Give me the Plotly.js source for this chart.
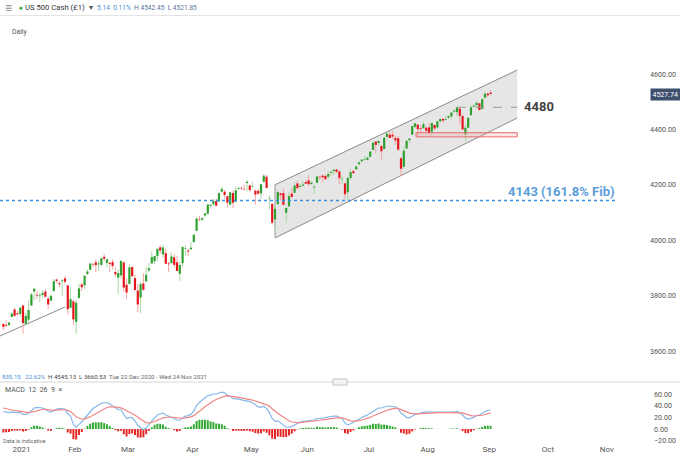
<!DOCTYPE html>
<html><head><meta charset="utf-8">
<script src="https://cdn.plot.ly/plotly-3.0.1.min.js"></script>
<style>html,body{margin:0;padding:0;background:#fff;}#chart{width:680px;height:455px;}</style>
</head><body><div id="chart"></div>
<script>
// ---- Data (US 500 Cash, daily) ----
const dates = [
'2020-12-22','2020-12-23','2020-12-24','2020-12-28','2020-12-29','2020-12-30','2020-12-31',
'2021-01-04','2021-01-05','2021-01-06','2021-01-07','2021-01-08','2021-01-11','2021-01-12','2021-01-13','2021-01-14','2021-01-15','2021-01-19','2021-01-20','2021-01-21','2021-01-22','2021-01-25','2021-01-26','2021-01-27','2021-01-28','2021-01-29',
'2021-02-01','2021-02-02','2021-02-03','2021-02-04','2021-02-05','2021-02-08','2021-02-09','2021-02-10','2021-02-11','2021-02-12','2021-02-16','2021-02-17','2021-02-18','2021-02-19','2021-02-22','2021-02-23','2021-02-24','2021-02-25','2021-02-26',
'2021-03-01','2021-03-02','2021-03-03','2021-03-04','2021-03-05','2021-03-08','2021-03-09','2021-03-10','2021-03-11','2021-03-12','2021-03-15','2021-03-16','2021-03-17','2021-03-18','2021-03-19','2021-03-22','2021-03-23','2021-03-24','2021-03-25','2021-03-26','2021-03-29','2021-03-30','2021-03-31',
'2021-04-01','2021-04-05','2021-04-06','2021-04-07','2021-04-08','2021-04-09','2021-04-12','2021-04-13','2021-04-14','2021-04-15','2021-04-16','2021-04-19','2021-04-20','2021-04-21','2021-04-22','2021-04-23','2021-04-26','2021-04-27','2021-04-28','2021-04-29','2021-04-30',
'2021-05-03','2021-05-04','2021-05-05','2021-05-06','2021-05-07','2021-05-10','2021-05-11','2021-05-12','2021-05-13','2021-05-14','2021-05-17','2021-05-18','2021-05-19','2021-05-20','2021-05-21','2021-05-24','2021-05-25','2021-05-26','2021-05-27','2021-05-28',
'2021-06-01','2021-06-02','2021-06-03','2021-06-04','2021-06-07','2021-06-08','2021-06-09','2021-06-10','2021-06-11','2021-06-14','2021-06-15','2021-06-16','2021-06-17','2021-06-18','2021-06-21','2021-06-22','2021-06-23','2021-06-24','2021-06-25','2021-06-28','2021-06-29','2021-06-30',
'2021-07-01','2021-07-02','2021-07-06','2021-07-07','2021-07-08','2021-07-09','2021-07-12','2021-07-13','2021-07-14','2021-07-15','2021-07-16','2021-07-19','2021-07-20','2021-07-21','2021-07-22','2021-07-23','2021-07-26','2021-07-27','2021-07-28','2021-07-29','2021-07-30',
'2021-08-02','2021-08-03','2021-08-04','2021-08-05','2021-08-06','2021-08-09','2021-08-10','2021-08-11','2021-08-12','2021-08-13','2021-08-16','2021-08-17','2021-08-18','2021-08-19','2021-08-20','2021-08-23','2021-08-24','2021-08-25','2021-08-26','2021-08-27','2021-08-30','2021-08-31',
'2021-09-01'];

const openP = [3698,3693,3694,3723,3750,3736,3734,
3764,3698,3713,3764,3815,3803,3798,3802,3815,3789,3782,3816,3858,3845,3852,3862,3837,3756,3779,
3705,3791,3840,3837,3878,3893,3912,3920,3913,3911,3940,3918,3918,3921,3885,3865,3873,3919,3839,
3842,3903,3863,3818,3793,3844,3851,3891,3916,3924,3943,3974,3949,3953,3916,3917,3938,3920,3879,3917,3969,3963,3967,
3993,4034,4075,4074,4089,4096,4124,4130,4141,4140,4175,4175,4159,4128,4170,4139,4185,4189,4185,4206,4198,
4192,4179,4178,4169,4211,4229,4150,4131,4075,4130,4169,4170,4099,4122,4168,4171,4205,4192,4197,4210,
4216,4203,4190,4207,4229,4233,4232,4229,4243,4249,4255,4248,4220,4205,4173,4225,4249,4256,4274,4285,4290,4290,
4301,4326,4356,4351,4340,4329,4373,4381,4381,4369,4368,4296,4265,4331,4361,4381,4409,4417,4404,4404,4406,
4407,4392,4416,4407,4429,4438,4434,4442,4447,4464,4462,4475,4448,4382,4406,4451,4482,4487,4494,4474,4514,4529,
4533];

const highP = [3698,3711,3703,3740,3756,3744,3760,
3769,3738,3783,3811,3826,3818,3810,3820,3823,3796,3805,3860,3861,3853,3860,3871,3837,3830,3785,
3784,3843,3848,3872,3894,3916,3919,3931,3925,3937,3950,3933,3921,3931,3902,3895,3928,3925,3862,
3915,3906,3875,3843,3851,3881,3904,3918,3960,3944,3970,3982,3984,3970,3921,3956,3949,3943,3920,3979,3981,3969,3994,
4021,4084,4087,4083,4098,4129,4131,4148,4151,4173,4192,4180,4160,4175,4179,4195,4194,4193,4201,4218,4199,
4210,4180,4186,4203,4238,4237,4163,4134,4131,4184,4171,4187,4118,4173,4188,4210,4214,4203,4213,4218,
4235,4212,4204,4234,4232,4236,4237,4249,4249,4255,4258,4252,4233,4208,4226,4255,4256,4271,4287,4293,4301,4302,
4321,4355,4358,4362,4345,4372,4387,4393,4394,4377,4376,4300,4337,4359,4369,4415,4422,4418,4415,4429,4413,
4423,4424,4418,4430,4441,4439,4449,4449,4461,4469,4480,4476,4455,4418,4443,4489,4493,4501,4495,4513,4537,4532,
4542];

const lowP = [3676,3689,3689,3723,3723,3730,3726,
3662,3695,3706,3764,3783,3789,3776,3792,3792,3750,3780,3816,3846,3830,3797,3841,3732,3756,3694,
3661,3791,3817,3824,3874,3892,3902,3885,3890,3905,3923,3901,3885,3895,3868,3805,3859,3815,3789,
3842,3868,3819,3740,3735,3819,3851,3885,3916,3915,3924,3950,3935,3914,3885,3917,3902,3889,3853,3903,3944,3943,3967,
3993,4034,4068,4069,4083,4092,4114,4124,4121,4140,4171,4150,4118,4126,4115,4138,4182,4181,4181,4176,4174,
4188,4128,4164,4148,4208,4188,4112,4056,4038,4130,4143,4125,4062,4122,4151,4171,4182,4190,4196,4203,
4197,4199,4167,4207,4216,4209,4219,4221,4233,4234,4243,4203,4204,4150,4145,4217,4241,4256,4272,4281,4288,4288,
4301,4324,4314,4340,4289,4329,4368,4369,4365,4345,4323,4233,4259,4329,4351,4381,4405,4373,4387,4404,4386,
4379,4373,4398,4403,4426,4425,4431,4437,4436,4461,4448,4418,4398,4358,4404,4451,4482,4486,4469,4472,4513,4515,
4522];

const closeP = [3687,3690,3703,3735,3727,3732,3756,
3701,3727,3748,3804,3825,3800,3801,3810,3796,3768,3799,3852,3853,3841,3855,3850,3751,3787,3714,
3774,3826,3830,3872,3887,3916,3911,3910,3916,3935,3933,3931,3914,3907,3877,3881,3925,3829,3811,
3902,3870,3820,3768,3842,3821,3875,3899,3939,3943,3969,3963,3974,3915,3913,3941,3911,3889,3910,3975,3971,3959,3973,
4020,4078,4074,4080,4097,4129,4128,4142,4125,4170,4185,4163,4135,4173,4135,4180,4188,4187,4183,4211,4181,
4193,4165,4168,4202,4233,4188,4152,4063,4113,4174,4163,4128,4116,4159,4156,4197,4188,4196,4201,4204,
4202,4208,4193,4230,4227,4227,4220,4239,4247,4255,4247,4224,4222,4166,4225,4246,4242,4266,4281,4291,4292,4298,
4320,4352,4344,4358,4321,4370,4385,4369,4374,4360,4327,4258,4323,4359,4367,4412,4422,4401,4401,4419,4395,
4387,4423,4403,4429,4437,4432,4437,4448,4461,4468,4480,4448,4400,4406,4442,4480,4486,4496,4470,4509,4529,4523,
4528];

// MACD (12, 26, 9)
const macdLine = [30,29,28,29,29,28,28,
25,25,27,32,36,37,37,36,34,30,
29,32,34,35,35,34,26,22,8,
3,8,12,18,24,30,35,38,41,44,
45,45,43,40,36,33,33,25,18,
20,19,14,6,2,-1,2,7,14,20,
24,26,27,24,22,21,18,15,15,19,22,23,25,
31,40,46,50,54,57,58,60,60,62,63,62,
58,56,52,52,51,50,49,49,47,
45,41,38,37,39,35,28,18,13,14,
10,6,3,3,4,7,10,12,13,14,15,15,15,
18,18,19,19,20,21,22,22,20,18,
10,7,9,11,14,17,20,22,24,
27,31,33,36,36,38,39,39,39,38,35,
27,24,20,19,22,25,26,28,29,29,
29,29,28,28,28,28,28,28,29,29,30,
28,24,19,17,18,20,23,24,27,30,32,33];

const signalLine = [36,34.6,33.3,32.4,31.7,31.0,30.4,
29.3,28.4,28.1,28.9,30.3,31.6,32.7,33.4,33.5,32.8,
32.0,32.0,32.4,32.9,33.3,33.4,31.9,29.9,25.5,
21.0,18.4,17.1,17.3,18.6,20.9,23.7,26.6,29.5,32.4,
34.9,36.9,38.1,38.5,38.0,37.0,36.2,34.0,30.8,
28.6,26.7,24.2,20.5,16.8,13.2,11.0,10.2,11.0,12.8,
15.0,17.2,19.2,20.1,20.5,20.6,20.1,19.1,18.3,18.4,19.1,19.9,20.9,
22.9,26.3,30.2,34.2,38.2,41.9,45.1,48.1,50.5,52.8,54.8,56.2,
56.6,56.5,55.6,54.9,54.1,53.3,52.4,51.7,50.8,
49.6,47.9,45.9,44.1,43.1,41.5,38.8,34.6,30.3,27.0,
23.6,20.1,16.7,14.0,12.0,11.0,10.8,11.0,11.4,11.9,12.5,13.0,13.4,
14.3,15.0,15.8,16.4,17.1,17.9,18.7,19.4,19.5,19.2,
17.4,15.3,14.0,13.4,13.5,14.2,15.4,16.7,18.2,
20.0,22.2,24.3,26.7,28.5,30.4,32.1,33.5,34.6,35.3,35.2,
33.6,31.7,29.3,27.2,26.2,26.0,26.0,26.4,26.9,27.3,
27.6,27.9,27.9,27.9,27.9,27.9,27.9,27.9,28.1,28.3,28.6,
28.5,27.6,25.9,24.1,22.9,22.3,22.4,22.7,23.6,24.9,26.3,27.6];

const macdHist = [-6,-5.6,-5.3,-3.4,-2.7,-3.0,-2.4,
-4.3,-3.4,-1.1,3.1,5.7,5.4,4.3,2.6,0.5,-2.8,
-3.0,0,1.6,2.1,1.7,0.6,-5.9,-7.9,-17.5,
-18.0,-10.4,-5.1,0.7,5.4,9.1,11.3,11.4,11.5,11.6,
10.1,8.1,4.9,1.5,-2.0,-4.0,-3.2,-9.0,-12.8,
-8.6,-7.7,-10.2,-14.5,-14.8,-14.2,-9.0,-3.2,3.0,7.2,
9.0,8.8,7.8,3.9,1.5,0.4,-2.1,-4.1,-3.3,0.6,2.9,3.1,4.1,
8.1,13.7,15.8,15.8,15.8,15.1,12.9,11.9,9.5,9.2,8.2,5.8,
1.4,-0.5,-3.6,-2.9,-3.1,-3.3,-3.4,-2.7,-3.8,
-4.6,-6.9,-7.9,-7.1,-4.1,-6.5,-10.8,-16.6,-17.3,-13.0,
-13.6,-14.1,-13.7,-11.0,-8.0,-4.0,-0.8,1.0,1.6,2.1,2.5,2.0,1.6,
3.7,3.0,3.2,2.6,2.9,3.1,3.3,2.6,0.5,-1.2,
-7.4,-8.3,-5.0,-2.4,0.5,2.8,4.6,5.3,5.8,
7.0,8.8,8.7,9.3,7.5,7.6,6.9,5.5,4.4,2.7,-0.2,
-6.6,-7.7,-9.3,-8.2,-4.2,-1.0,0,1.6,2.1,1.7,
1.4,1.1,0.1,0.1,0.1,0.1,0.1,0.1,0.9,0.7,1.4,
-0.5,-3.6,-6.9,-7.1,-4.9,-2.3,0.6,1.3,3.4,5.1,5.7,5.4];

const monthTickDates = ['2021-01-04','2021-02-01','2021-03-01','2021-04-01','2021-05-03','2021-06-01','2021-07-01','2021-08-02','2021-09-01','2021-10-01','2021-11-01'];
const monthTickLabels = ['2021','Feb','Mar','Apr','May','Jun','Jul','Aug','Sep','Oct','Nov'];
const marketHolidays = ['2020-12-25','2021-01-01','2021-01-18','2021-02-15','2021-04-02','2021-05-31','2021-07-05','2021-09-06'];
const priceTicks = [3600,3800,4000,4200,4400,4600];
const macdTicks = [-20,0,20,40,60];

// Drawing levels
const fibLevel = 4143;
const resistanceLevel = 4480;
const lastPrice = 4527.74;
const channelX = ['2021-05-13 12:00','2021-09-16 00:00'];
const channelUpper = [4200,4614];
const channelLower = [4008,4441];
const trendX = ['2020-12-21 07:00','2021-01-26 12:00'];
const trendY = [3654,3759];
const zoneX = ['2021-07-26 21:00','2021-09-16 00:00'];
const zoneY = [4373,4388];

// ---- Build traces ----
const DAY = 86400000;
const xs = dates.map(d => d + ' 12:00');
const isUp = closeP.map((c,i) => c >= openP[i]);
const GREEN = '#2f9f2f', RED = '#e3161c';
const GREEN_W = '#a6d6a0', RED_W = '#f2a2a2';

const wicks = {
  type:'bar', x:xs, base:lowP, y:highP.map((h,i)=>h-lowP[i]),
  width:0.34*DAY, marker:{color:isUp.map(u=>u?GREEN_W:RED_W), line:{width:0}},
  hoverinfo:'skip', xaxis:'x', yaxis:'y'
};
const bodies = {
  type:'bar', x:xs, base:openP.map((o,i)=>Math.min(o,closeP[i])),
  y:openP.map((o,i)=>Math.max(Math.abs(closeP[i]-o),1.5)),
  width:0.78*DAY, marker:{color:isUp.map(u=>u?GREEN:RED), line:{width:0}},
  hoverinfo:'skip', xaxis:'x', yaxis:'y'
};
const hist = {
  type:'bar', x:xs, y:macdHist, width:0.7*DAY,
  marker:{color:macdHist.map(v=>v>=0?'#33a833':'#e52424'), line:{width:0}},
  xaxis:'x2', yaxis:'y2', hoverinfo:'skip'
};
const macdTrace = {type:'scatter', mode:'lines', x:xs, y:macdLine, line:{color:'#86b8ea', width:1.2}, xaxis:'x2', yaxis:'y2', hoverinfo:'skip'};
const signalTrace = {type:'scatter', mode:'lines', x:xs, y:signalLine, line:{color:'#f08585', width:1.2}, xaxis:'x2', yaxis:'y2', hoverinfo:'skip'};

const W = 618, H = 455;
const px = v => v / W;
const py = v => (H - v) / H;

const xCommon = {
  type:'date', range:['2020-12-21 07:00','2021-11-05 00:00'],
  rangebreaks:[{bounds:['sat','mon']},{values:marketHolidays}],
  showgrid:false, zeroline:false, showline:false, ticks:'', fixedrange:true, automargin:false
};

const shapes = [
  {type:'line', xref:'paper', yref:'paper', x0:0, x1:680/W, y0:py(15.5), y1:py(15.5), line:{color:'#e4e4e4', width:1}},
  {type:'line', xref:'paper', yref:'paper', x0:0, x1:680/W, y0:py(382), y1:py(382), line:{color:'#d6d6d6', width:1}},
  {type:'rect', xref:'paper', yref:'paper', x0:px(333), x1:px(347), y0:py(385), y1:py(379), fillcolor:'#f3f3f3', line:{color:'#c4c4c4', width:1}},
  {type:'path', xref:'x', yref:'y', layer:'below',
   path:'M'+channelX[0].replace(' ','_')+','+channelUpper[0]+'L'+channelX[1].replace(' ','_')+','+channelUpper[1]+
        'L'+channelX[1].replace(' ','_')+','+channelLower[1]+'L'+channelX[0].replace(' ','_')+','+channelLower[0]+'Z',
   fillcolor:'#e6e6e6', line:{width:0}},
  {type:'line', xref:'x', yref:'y', layer:'below', x0:channelX[0], x1:channelX[1], y0:channelUpper[0], y1:channelUpper[1], line:{color:'#8a8a8a', width:1}},
  {type:'line', xref:'x', yref:'y', layer:'below', x0:channelX[0], x1:channelX[1], y0:channelLower[0], y1:channelLower[1], line:{color:'#8a8a8a', width:1}},
  {type:'line', xref:'x', yref:'y', layer:'below', x0:channelX[0], x1:channelX[0], y0:channelLower[0], y1:channelUpper[0], line:{color:'#9a9a9a', width:1}},
  {type:'line', xref:'x', yref:'y', layer:'below', x0:trendX[0], x1:trendX[1], y0:trendY[0], y1:trendY[1], line:{color:'#8a8a8a', width:1}},
  {type:'line', xref:'paper', yref:'y', x0:0, x1:px(617), y0:fibLevel, y1:fibLevel, line:{color:'#3b8fe2', width:1.5, dash:'dot'}},
  {type:'line', xref:'x', yref:'y', x0:'2021-08-16 12:00', x1:'2021-09-16 00:00', y0:resistanceLevel, y1:resistanceLevel, line:{color:'#9a9a9a', width:1.2, dash:'dash'}},
  {type:'rect', xref:'x', yref:'y', x0:zoneX[0], x1:zoneX[1], y0:zoneY[0], y1:zoneY[1], fillcolor:'rgba(250,140,140,0.22)', line:{color:'#e46a6a', width:1}}
];

const ann = (text, x, y, opts) => Object.assign({text, x:px(x), y:py(y), xref:'paper', yref:'paper', xanchor:'left', yanchor:'middle', showarrow:false, font:{size:7.5, color:'#555'}}, opts||{});
const NB = '&nbsp;';
const BLUE_T = '#4a8ed6';

const annotations = [
  ann('≡', 3, 7.5, {font:{size:12, color:'#8a8a8a'}}),
  ann('●', 16.5, 7.5, {font:{size:6.5, color:'#1fa52b'}}),
  ann('US 500 Cash (£1)', 23, 7.5, {font:{size:7.7, color:'#333'}}),
  ann('▾', 86.5, 7.5, {font:{size:7.5, color:'#555'}}),
  ann('<span style="color:'+BLUE_T+'">5.14'+NB+NB+'0.11%</span>'+NB+NB+'H 4542.45'+NB+NB+'L 4521.85', 95, 7.5, {font:{size:6.6, color:'#55739a'}}),
  ann('Daily', 10, 32, {font:{size:6.8, color:'#555'}}),
  ann('<span style="color:'+BLUE_T+'">835.15'+NB+NB+NB+'22.62%</span>'+NB+NB+'H 4545.13'+NB+NB+'L 3660.53'+NB+NB+'<span style="color:#666">Tue 22 Dec 2020 - Wed 24 Nov 2021</span>', 0, 376.5, {font:{size:6.1, color:'#444'}}),
  ann('MACD'+NB+NB+'12'+NB+NB+'26'+NB+NB+'9'+NB+NB+'×', 3, 390, {font:{size:7, color:'#555'}}),
  ann('Data is indicative', 1, 441, {font:{size:5.6, color:'#666'}}),
  {text:'<b>4480</b>', xref:'paper', yref:'y', x:px(522), y:4484, xanchor:'left', yanchor:'middle', showarrow:false, font:{size:13, color:'#444'}},
  {text:'<b>4143 (161.8% Fib)</b>', xref:'paper', yref:'y', x:px(617), y:4174, xanchor:'right', yanchor:'middle', showarrow:false, font:{size:13, color:'#5c9ddb'}},
  {text:lastPrice.toFixed(2), xref:'paper', yref:'y', x:px(650), y:lastPrice, xanchor:'left', yanchor:'middle', showarrow:false, bgcolor:'#3f506f', borderpad:1.5, font:{size:7, color:'#ffffff'}}
];

const layout = {
  width:680, height:455, margin:{l:0, r:62, t:0, b:0},
  paper_bgcolor:'#ffffff', plot_bgcolor:'rgba(0,0,0,0)', showlegend:false, barmode:'overlay',
  font:{family:'Roboto, Arial, sans-serif', size:8, color:'#555'},
  xaxis:Object.assign({}, xCommon, {anchor:'y', showticklabels:false}),
  yaxis:{anchor:'x', domain:[(H-370)/H, (H-40)/H], range:[3531.4, 4722.7], side:'right',
    tickvals:priceTicks, tickformat:'.2f', showgrid:false, zeroline:false, showline:false, ticks:'',
    ticklabelstandoff:31, tickfont:{size:7.2, color:'#555'}, automargin:false, fixedrange:true},
  xaxis2:Object.assign({}, xCommon, {anchor:'y2', tickvals:monthTickDates, ticktext:monthTickLabels, tickfont:{size:8, color:'#555'}}),
  yaxis2:{anchor:'x2', domain:[(H-443)/H, (H-385)/H], range:[-24, 75.4], side:'right',
    tickvals:macdTicks, tickformat:'.2f', showgrid:false, zeroline:false, showline:false, ticks:'',
    ticklabelstandoff:35, tickfont:{size:7.2, color:'#555'}, automargin:false, fixedrange:true},
  shapes:shapes, annotations:annotations
};

Plotly.newPlot('chart', [wicks, bodies, hist, macdTrace, signalTrace], layout, {displayModeBar:false, staticPlot:true});
</script>
</body></html>
